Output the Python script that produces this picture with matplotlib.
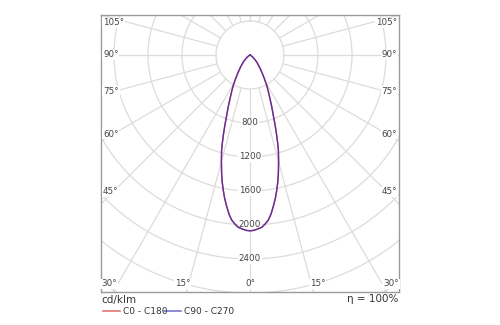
import numpy as np
import matplotlib
matplotlib.use("Agg")
import matplotlib.pyplot as plt

# ---- data ----
gamma_deg = [0, 1, 2.5, 4, 5, 6.3, 7.5, 8.7, 10, 11.2, 12.4, 13.5, 15, 16.6, 17.4, 18.5,
             19.8, 21.1, 22.8, 24.6, 26.7, 28.9, 31.5, 34.5, 38.5, 43.7, 48, 53, 58, 64, 90]
c0_c180 = [2068, 2065, 2050, 2030, 2000, 1955, 1890, 1805, 1715, 1620, 1525, 1430, 1300,
           1170, 1090, 985, 868, 762, 660, 565, 480, 405, 320, 245, 175, 115, 70, 38, 16, 3, 0]
c90_c270 = [2068, 2065, 2050, 2030, 2000, 1955, 1890, 1805, 1715, 1620, 1525, 1430, 1300,
            1170, 1090, 985, 868, 762, 660, 565, 480, 405, 320, 245, 175, 115, 70, 38, 16, 3, 0]
ring_values = [400, 800, 1200, 1600, 2000, 2400, 2800, 3200, 3600]
ring_labels = [800, 1200, 1600, 2000, 2400]
side_angles = [105, 90, 75, 60, 45]
bottom_angles = [30, 15, 0, 15, 30]
unit_label = "cd/klm"
series_names = ["C0 - C180", "C90 - C270"]
efficiency = "η = 100%"

# ---- figure ----
W, H = 500, 325
fig = plt.figure(figsize=(W / 100, H / 100), dpi=100)
L, R, T, B = 101, 399, 15, 292
cx, cy = 250, 55
scale = 400 / 34.0  # cd per pixel
ax = fig.add_axes([L / W, 1 - B / H, (R - L) / W, (B - T) / H])
ax.set_xlim((L - cx) * scale, (R - cx) * scale)
ax.set_ylim(-(B - cy) * scale, (cy - T) * scale)
ax.set_aspect("equal", adjustable="box")
ax.set_xticks([])
ax.set_yticks([])
for s in ax.spines.values():
    s.set_color("#9a9a9a")
    s.set_linewidth(1.0)

grid_c = "#dcdcdc"
t = np.linspace(0, 2 * np.pi, 721)
for r in ring_values:
    ax.plot(r * np.sin(t), r * np.cos(t), color=grid_c, lw=0.9, zorder=1)
for a in range(0, 360, 15):
    ar = np.radians(a)
    ax.plot([400 * np.sin(ar), 5000 * np.sin(ar)],
            [-400 * np.cos(ar), -5000 * np.cos(ar)], color=grid_c, lw=0.9, zorder=1)

txt_c = "#444444"
fs = 6.3
for r in ring_labels:
    ax.text(0, -r, str(r), ha="center", va="center", fontsize=fs, color=txt_c,
            bbox=dict(boxstyle="square,pad=0.1", fc="white", ec="none"), zorder=3)

# side angle labels
xl = (L - cx) * scale
for a in side_angles:
    ar = np.radians(a)
    xin = 12 * scale
    y = -(abs(xl) - xin) / np.tan(ar) if a != 90 else 0
    if a == 105:
        y = -(23 - cy) * scale
    for ha, xpos in [("left", (L + 2 - cx) * scale), ("right", (R - 2 - cx) * scale)]:
        ax.text(xpos, y, f"{a}°", ha=ha, va="center", fontsize=fs, color=txt_c,
                bbox=dict(boxstyle="square,pad=0.1", fc="white", ec="none"), zorder=3)

# bottom angle labels
yb = -(284 - cy) * scale
for i, a in enumerate(bottom_angles):
    sgn = -1 if i < 2 else (1 if i > 2 else 0)
    d = (B - cy) * np.tan(np.radians(a))
    x = sgn * (d + 4) * scale
    ax.text(x, yb, f"{a}°", ha="center", va="center", fontsize=fs, color=txt_c,
            bbox=dict(boxstyle="square,pad=0.1", fc="white", ec="none"), zorder=3)

# curves (mirror for both halves)
g = np.radians(np.array(gamma_deg, dtype=float))
def curve(vals):
    v = np.array(vals, dtype=float)
    gg = np.concatenate([-g[::-1], g[1:]])
    vv = np.concatenate([v[::-1], v[1:]])
    return vv * np.sin(gg), -vv * np.cos(gg)

x0, y0 = curve(c0_c180)
x1, y1 = curve(c90_c270)
red = "#e03030"
blue = "#3a2fc0"
ax.plot(x0, y0, color=red, lw=1.0, zorder=4, solid_joinstyle="round")
ax.plot(x1, y1, color=blue, lw=1.0, alpha=0.78, zorder=5, solid_joinstyle="round")

# footer text
fig.text(L / W, 1 - 300 / H, unit_label, ha="left", va="center", fontsize=7.5, color="#333333")
fig.text((R - 1) / W, 1 - 299 / H, efficiency, ha="right", va="center", fontsize=7.5, color="#333333")
ly = 1 - 311 / H
fig.add_artist(plt.Line2D([103 / W, 120 / W], [ly, ly], color="#e07878", lw=1.2))
fig.text(123 / W, ly, series_names[0], ha="left", va="center", fontsize=6.5, color="#333333")
fig.add_artist(plt.Line2D([164 / W, 181 / W], [ly, ly], color="#7a78cc", lw=1.2))
fig.text(184 / W, ly, series_names[1], ha="left", va="center", fontsize=6.5, color="#333333")

fig.savefig("out.png", dpi=100)
